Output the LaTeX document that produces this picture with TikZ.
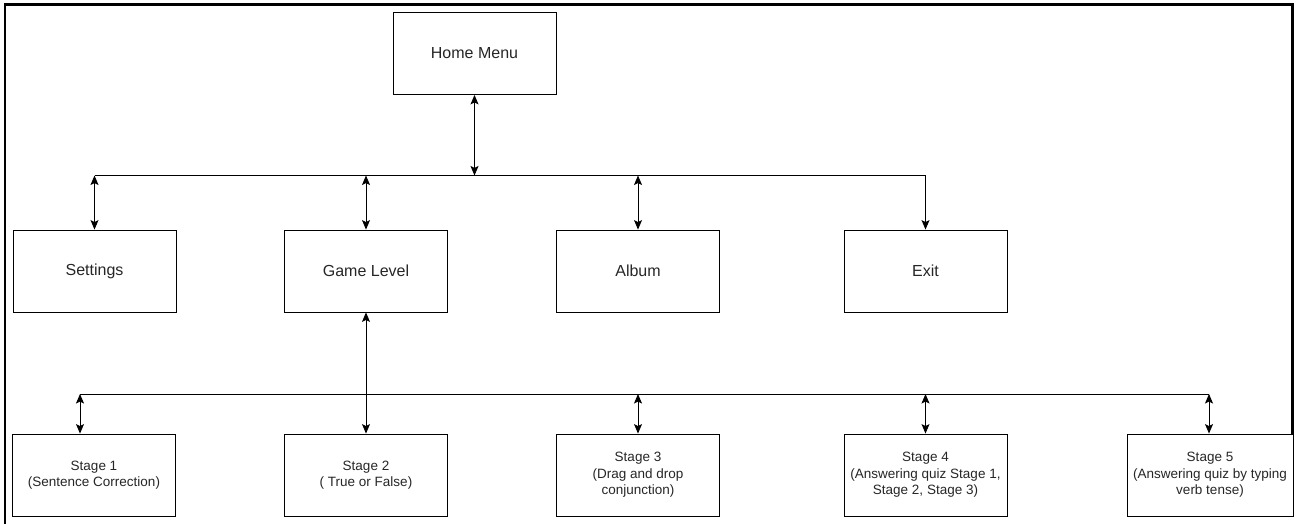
\documentclass[tikz,border=0pt]{standalone}
\usepackage{fontspec}
\setmainfont{Liberation Sans}
\usepackage{tikz}
\usetikzlibrary{arrows.meta, positioning, calc}

\begin{document}
\begin{tikzpicture}[
  x=1pt, y=-1pt,
  box/.style={rectangle, draw, line width=0.9pt, minimum width=163pt,
              minimum height=82pt, align=center, inner sep=2pt,
              text=black!85, font=\fontsize{16}{19}\selectfont},
  stagebox/.style={box, font=\fontsize{13.5}{16.5}\selectfont},
  arr/.style={-{Stealth[length=9.5pt, width=8pt, inset=2pt]}, line width=0.9pt},
  dbl/.style={{Stealth[length=9.5pt, width=8pt, inset=2pt]}-{Stealth[length=9.5pt, width=8pt, inset=2pt]}, line width=0.9pt},
  bus/.style={line width=0.9pt}
]
  \useasboundingbox (0,0) rectangle (1296,524);
  % outer frame
  \draw[line width=2.6pt] (5,530) -- (5,4.5) -- (1292.5,4.5) -- (1292.5,434);

  \node[box] (home) at (474.5,53.5) {Home Menu};

  \node[box] (settings) at (94.5,271) {Settings};
  \node[box] (game)     at (366,271)  {Game Level};
  \node[box] (album)    at (638,271)  {Album};
  \node[box] (exit)     at (925.5,271) {Exit};

  \node[stagebox] (s1) at (94,475)   {Stage 1\\(Sentence Correction)};
  \node[stagebox] (s2) at (366,475)  {Stage 2\\( True or False)};
  \node[stagebox] (s3) at (638,475)  {Stage 3\\(Drag and drop\\conjunction)};
  \node[stagebox] (s4) at (925.5,475) {Stage 4\\(Answering quiz Stage 1,\\Stage 2, Stage 3)};
  \node[stagebox, minimum width=166pt] (s5) at (1210,475) {Stage 5\\(Answering quiz by typing\\verb tense)};

  % menu bus
  \coordinate (b1w) at (94.5,175.5);
  \coordinate (b1e) at (925.5,175.5);
  \draw[bus] (b1w) -- (b1e);
  \draw[dbl] (home.south) -- (home.south |- b1w);
  \draw[dbl] (b1w) -- (settings.north);
  \draw[dbl] (game.north |- b1w) -- (game.north);
  \draw[dbl] (album.north |- b1w) -- (album.north);
  \draw[arr] (b1e) -- (exit.north);

  % stage bus
  \coordinate (b2w) at (80,394);
  \coordinate (b2e) at (1209,394);
  \draw[bus] (b2w) -- (b2e);
  \draw[dbl] (game.south) -- (s2.north);
  \draw[dbl] (b2w) -- (b2w |- s1.north);
  \draw[dbl] (s3.north |- b2w) -- (s3.north);
  \draw[dbl] (s4.north |- b2w) -- (s4.north);
  \draw[dbl] (b2e) -- (b2e |- s5.north);
\end{tikzpicture}
\end{document}
